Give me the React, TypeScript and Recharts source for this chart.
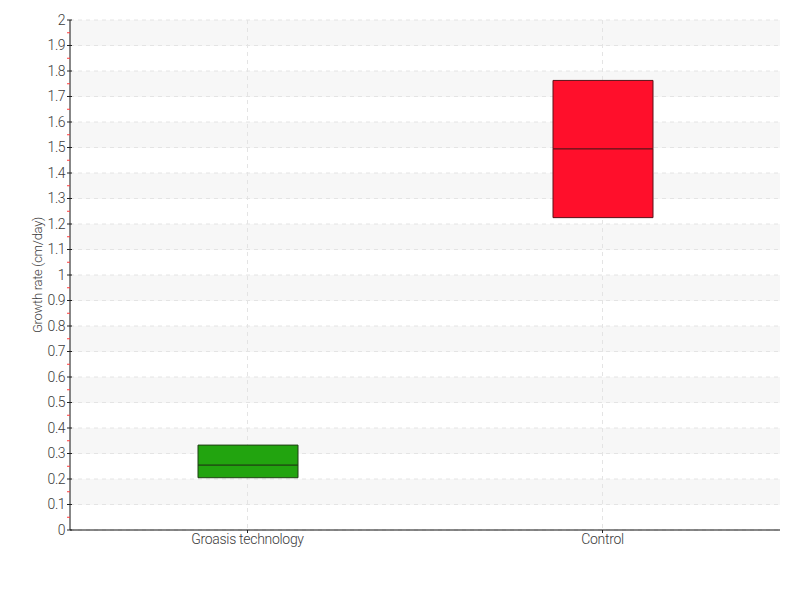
import { ComposedChart, Bar, Cell, XAxis, YAxis, CartesianGrid } from "recharts";

const categories = ["Groasis technology", "Control"];
const q1Values = [0.205, 1.225];
const medianValues = [0.255, 1.495];
const q3Values = [0.333, 1.763];

const boxFills = ["#22a40f", "#ff0f2b"];
const boxStrokes = ["#1f3f14", "#5a1218"];

const majorTicks = [0, 0.1, 0.2, 0.3, 0.4, 0.5, 0.6, 0.7, 0.8, 0.9, 1, 1.1, 1.2, 1.3, 1.4, 1.5, 1.6, 1.7, 1.8, 1.9, 2];
const minorTicks = [0.05, 0.15, 0.25, 0.35, 0.45, 0.55, 0.65, 0.75, 0.85, 0.95, 1.05, 1.15, 1.25, 1.35, 1.45, 1.55, 1.65, 1.75, 1.85, 1.95];

const data = categories.map((name, i) => ({
  name,
  base: q1Values[i],
  lower: medianValues[i] - q1Values[i],
  upper: q3Values[i] - medianValues[i],
}));

const allTicks = [...majorTicks, ...minorTicks].sort((a, b) => a - b);

const font = "Roboto, sans-serif";
const textColor = "#3c3c3c";

function YTick(props: any) {
  const { x, y, payload } = props;
  const v = payload.value;
  if (majorTicks.includes(v)) {
    return (
      <g>
        <line x1={x - 3} x2={x + 2} y1={y} y2={y} stroke="#222" strokeWidth={1} />
        <text
          x={x - 5}
          y={y}
          dy="0.35em"
          textAnchor="end"
          fontSize={14}
          fontWeight={300}
          letterSpacing={-0.5}
          fill={textColor}
          fontFamily={font}
        >
          {String(v)}
        </text>
      </g>
    );
  }
  return <line x1={x - 3} x2={x} y1={y} y2={y} stroke="#ff3b3b" strokeWidth={1} />;
}

// vertical grid lines at the centre of each category band
const centreLines = ({ xAxis, offset }: any) => {
  const scale = xAxis && xAxis.scale;
  return categories.map((c, i) => {
    let pos: number | undefined;
    if (typeof scale === "function") {
      pos = scale(c) + (scale.bandwidth ? scale.bandwidth() / 2 : 0);
    } else if (scale && typeof scale.map === "function") {
      pos = scale.map(c, { position: "middle" });
    }
    if (typeof pos !== "number" || isNaN(pos)) {
      pos = offset.left + ((i + 0.5) * offset.width) / categories.length;
    }
    return pos;
  });
};

export default function App() {
  return (
    <div style={{ position: "absolute", left: 0, top: 0, width: 800, height: 600, background: "#fff" }}>
      <ComposedChart
        width={800}
        height={600}
        data={data}
        margin={{ top: 20, right: 20, bottom: 40, left: 0 }}
        barCategoryGap={0}
      >
        <CartesianGrid
          horizontalValues={majorTicks}
          verticalCoordinatesGenerator={centreLines}
          horizontalFill={["#f7f7f7", "transparent"]}
          stroke="#e4e4e4"
          strokeDasharray="4 4"
        />
        <XAxis
          dataKey="name"
          axisLine={{ stroke: "#111" }}
          tickLine={{ stroke: "#222" }}
          tickSize={3}
          tickMargin={1}
          tick={{ fontSize: 14, fontWeight: 300, fill: textColor, fontFamily: font, letterSpacing: -0.3 }}
        />
        <YAxis
          type="number"
          domain={[0, 2]}
          ticks={allTicks}
          interval={0}
          width={70}
          tickSize={0}
          tickMargin={0}
          tickLine={false}
          axisLine={{ stroke: "#111" }}
          tick={<YTick />}
          label={{
            value: "Growth rate (cm/day)",
            angle: -90,
            position: "center",
            dx: 2,
            style: { fontSize: 13, fontWeight: 300, fill: textColor, fontFamily: font, letterSpacing: -0.3 },
          }}
        />
        <Bar dataKey="base" stackId="box" fill="transparent" barSize={100} isAnimationActive={false} />
        <Bar dataKey="lower" stackId="box" barSize={100} isAnimationActive={false}>
          {data.map((d, i) => (
            <Cell key={d.name} fill={boxFills[i]} stroke={boxStrokes[i]} strokeWidth={1} />
          ))}
        </Bar>
        <Bar dataKey="upper" stackId="box" barSize={100} isAnimationActive={false}>
          {data.map((d, i) => (
            <Cell key={d.name} fill={boxFills[i]} stroke={boxStrokes[i]} strokeWidth={1} />
          ))}
        </Bar>
      </ComposedChart>
    </div>
  );
}
